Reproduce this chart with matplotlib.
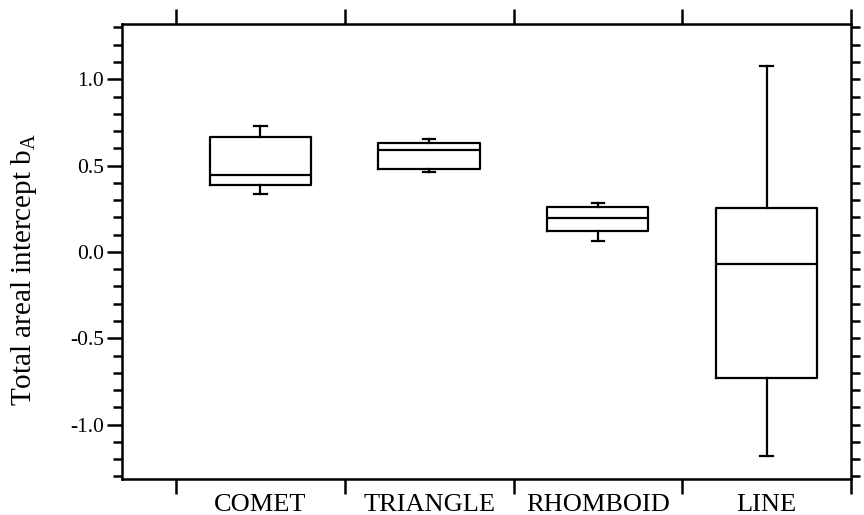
import matplotlib
matplotlib.use("Agg")
import matplotlib.pyplot as plt
import numpy as np

categories = ["COMET", "TRIANGLE", "RHOMBOID", "LINE"]
whis_low = [0.334, 0.462, 0.064, -1.183]
q1 = [0.387, 0.482, 0.121, -0.730]
median = [0.445, 0.591, 0.198, -0.071]
q3 = [0.663, 0.632, 0.262, 0.253]
whis_high = [0.730, 0.653, 0.281, 1.077]
y_ticks = [-1.0, -0.5, 0.0, 0.5, 1.0]
y_ticklabels = ["-1.0", "-0.5", "0.0", "0.5", "1.0"]

plt.rcParams['font.family'] = ['Liberation Serif', 'DejaVu Serif']

fig = plt.figure(figsize=(8.64, 5.15), dpi=100)
ax = fig.add_axes([122/864, 36/515, (851-122)/864, (479-24)/515])

positions = np.arange(1, len(categories) + 1)
stats = []
for i, c in enumerate(categories):
    stats.append(dict(label=c, whislo=whis_low[i], q1=q1[i], med=median[i],
                      q3=q3[i], whishi=whis_high[i], fliers=[]))

lw = 1.6
ax.bxp(stats, positions=positions, widths=0.6, capwidths=0.075,
       showfliers=False,
       boxprops=dict(color='black', linewidth=lw),
       medianprops=dict(color='black', linewidth=lw),
       whiskerprops=dict(color='black', linewidth=lw),
       capprops=dict(color='black', linewidth=lw))

ax.set_xlim(0.18, 4.5)
ax.set_ylim(-1.315, 1.32)

for s in ax.spines.values():
    s.set_linewidth(1.8)

# x axis: major ticks at boundaries, labels at centers
ax.set_xticks(np.arange(0.5, len(categories) + 1, 1.0))
ax.set_xticklabels([])
ax.set_xticks(positions, minor=True)
ax.set_xticklabels(categories, minor=True, fontsize=19)
ax.tick_params(axis='x', which='major', direction='out', length=11, width=1.8,
               top=True, bottom=True)
ax.tick_params(axis='x', which='minor', length=0, pad=11)

# y axis
ax.set_yticks(y_ticks)
ax.set_yticklabels(y_ticklabels, fontsize=15.5)
ax.set_yticks(np.arange(-13, 14) / 10.0, minor=True)
ax.tick_params(axis='y', which='major', direction='out', length=11, width=1.8, pad=2)
ax.tick_params(axis='y', which='minor', direction='out', length=6.5, width=1.8)

ax2 = ax.twinx()
ax2.set_ylim(ax.get_ylim())
ax2.set_yticks(np.arange(-13, 14) / 10.0)
ax2.set_yticklabels([])
ax2.tick_params(axis='y', direction='out', length=6.5, width=1.8)
for s in ax2.spines.values():
    s.set_visible(False)

ax.set_ylabel(r"Total areal intercept b$_{\mathregular{A}}$", fontsize=21)
ax.yaxis.set_label_coords(-0.114, 0.46)

fig.savefig("out.png", dpi=100)
